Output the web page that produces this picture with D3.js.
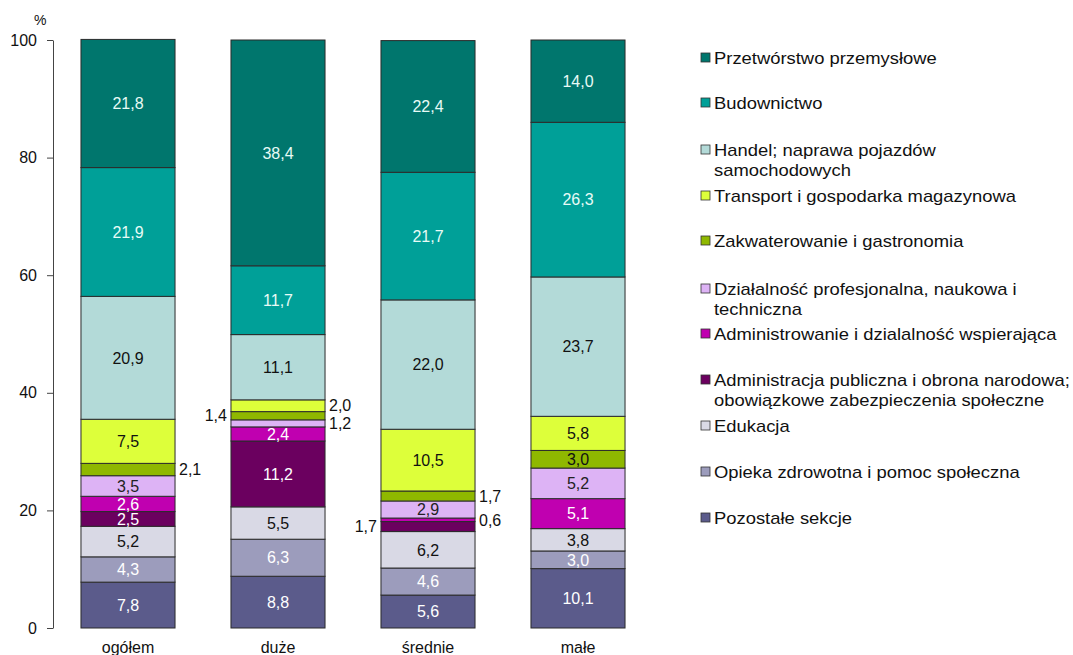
<!DOCTYPE html>
<meta charset="utf-8">
<style>
  body { margin: 0; background: #fff; }
  text { font-family: "Liberation Sans", Arial, sans-serif; }
</style>
<script src="https://cdn.jsdelivr.net/npm/d3@7"></script>
<svg id="graph" width="1073" height="655"></svg>
<script>

// categories (bars)
var categories = ["ogółem", "duże", "średnie", "małe"];

// series, bottom of the stack first
var series = ["Pozostałe sekcje", "Opieka zdrowotna i pomoc społeczna", "Edukacja",
  "Administracja publiczna i obrona narodowa; obowiązkowe zabezpieczenia społeczne",
  "Administrowanie i dzialalność wspierająca", "Działalność profesjonalna, naukowa i techniczna",
  "Zakwaterowanie i gastronomia", "Transport i gospodarka magazynowa",
  "Handel; naprawa pojazdów samochodowych", "Budownictwo", "Przetwórstwo przemysłowe"];

// values per category, same order as series
var ogolem  = [7.8, 4.3, 5.2, 2.5, 2.6, 3.5, 2.1, 7.5, 20.9, 21.9, 21.8];
var duze    = [8.8, 6.3, 5.5, 11.2, 2.4, 1.2, 1.4, 2.0, 11.1, 11.7, 38.4];
var srednie = [5.6, 4.6, 6.2, 1.7, 0.6, 2.9, 1.7, 10.5, 22.0, 21.7, 22.4];
var male    = [10.1, 3.0, 3.8, 0, 5.1, 5.2, 3.0, 5.8, 23.7, 26.3, 14.0];

var yTicks = [0, 20, 40, 60, 80, 100];

// legend lines (top to bottom)
var legendLines = [
  ["Przetwórstwo przemysłowe"],
  ["Budownictwo"],
  ["Handel; naprawa pojazdów", "samochodowych"],
  ["Transport i gospodarka magazynowa"],
  ["Zakwaterowanie i gastronomia"],
  ["Działalność profesjonalna, naukowa i", "techniczna"],
  ["Administrowanie i dzialalność wspierająca"],
  ["Administracja publiczna i obrona narodowa;", "obowiązkowe zabezpieczenia społeczne"],
  ["Edukacja"],
  ["Opieka zdrowotna i pomoc społeczna"],
  ["Pozostałe sekcje"]
];

var colors = ["#5b5b8b", "#9c9cbc", "#d9d9e5", "#6b005f", "#c000b0", "#ddb3f5",
  "#8fb800", "#ddff3a", "#b3dad8", "#00a098", "#00766d"];
var textColors = ["#fff", "#fff", "#111", "#fff", "#fff", "#222",
  "#111", "#111", "#111", "#e8fbf6", "#e8fbf6"];

// labels drawn beside the bar: [category index, series index, side]
var outside = [[0, 6, "r"], [1, 7, "r"], [1, 5, "r"], [1, 6, "l"],
  [2, 6, "r"], [2, 4, "r"], [2, 3, "l"]];

var values = [ogolem, duze, srednie, male];
var table = categories.map(function(c, i) {
  var row = {cat: c};
  series.forEach(function(s, j) { row[s] = values[i][j]; });
  return row;
});

var svg = d3.select("#graph");
var fmt = function(v) { return v.toFixed(1).replace(".", ","); };

var x = d3.scaleBand().domain(categories).range([53, 653])
  .paddingInner(0.373).paddingOuter(0.1865);
var y = d3.scaleLinear().domain([0, 100]).range([628, 40]);

var stack = d3.stack().keys(series)(table);

var layer = svg.selectAll(".layer").data(stack).enter().append("g")
  .attr("fill", function(d, i) { return colors[i]; });

layer.selectAll("rect").data(function(d) { return d; }).enter()
  .filter(function(d) { return d[1] - d[0] > 0; })
  .append("rect")
  .attr("x", function(d) { return x(d.data.cat); })
  .attr("y", function(d) { return y(d[1]); })
  .attr("width", x.bandwidth())
  .attr("height", function(d) { return y(d[0]) - y(d[1]); })
  .attr("stroke", "#2b2b2b")
  .attr("stroke-width", 1);

function isOutside(ci, si) {
  return outside.filter(function(o) { return o[0] === ci && o[1] === si; })[0];
}

stack.forEach(function(s, si) {
  s.forEach(function(d, ci) {
    var v = d[1] - d[0];
    if (v <= 0) return;
    var o = isOutside(ci, si);
    var cy = y((d[0] + d[1]) / 2);
    var t = svg.append("text")
      .attr("y", cy)
      .attr("dy", "0.36em")
      .style("font-size", "16px")
      .text(fmt(v));
    if (o) {
      t.attr("fill", "#111")
        .attr("x", o[2] === "r" ? x(d.data.cat) + x.bandwidth() + 4 : x(d.data.cat) - 4)
        .attr("text-anchor", o[2] === "r" ? "start" : "end");
    } else {
      t.attr("fill", textColors[si])
        .attr("x", x(d.data.cat) + x.bandwidth() / 2)
        .attr("text-anchor", "middle");
    }
  });
});

// y axis
var yAxis = svg.append("g")
  .attr("transform", "translate(53,0)")
  .call(d3.axisLeft(y).tickValues(yTicks).tickSize(6).tickSizeOuter(0).tickPadding(10));
yAxis.select(".domain").attr("stroke", "#444");
yAxis.selectAll(".tick line").attr("stroke", "#444");
yAxis.selectAll(".tick text").style("font-size", "16px").attr("fill", "#111")
  .style("font-family", "'Liberation Sans', Arial, sans-serif");

svg.append("text").attr("x", 34).attr("y", 25).style("font-size", "14px")
  .attr("fill", "#111").text("%");

// category labels
svg.selectAll(".cat").data(categories).enter().append("text")
  .attr("x", function(d) { return x(d) + x.bandwidth() / 2; })
  .attr("y", 653)
  .attr("text-anchor", "middle")
  .style("font-size", "16px")
  .attr("fill", "#111")
  .text(function(d) { return d; });

// legend, top series first
var legendTops = [58, 103, 150, 196, 241, 289, 334, 380, 426, 472, 518];
var lg = svg.selectAll(".lg").data(legendLines).enter().append("g")
  .attr("transform", function(d, i) { return "translate(701," + legendTops[i] + ")"; });
lg.append("rect")
  .attr("x", 0).attr("y", -5).attr("width", 9).attr("height", 9)
  .attr("fill", function(d, i) { return colors[series.length - 1 - i]; })
  .attr("stroke", "#333").attr("stroke-width", 0.8);
lg.each(function(lines) {
  var g = d3.select(this).append("g").attr("transform", "translate(13,0) scale(1.15,1)");
  lines.forEach(function(l, k) {
    g.append("text").attr("x", 0).attr("y", k * 20).attr("dy", "0.36em")
      .style("font-size", "16px").attr("fill", "#111").text(l);
  });
});

</script>
